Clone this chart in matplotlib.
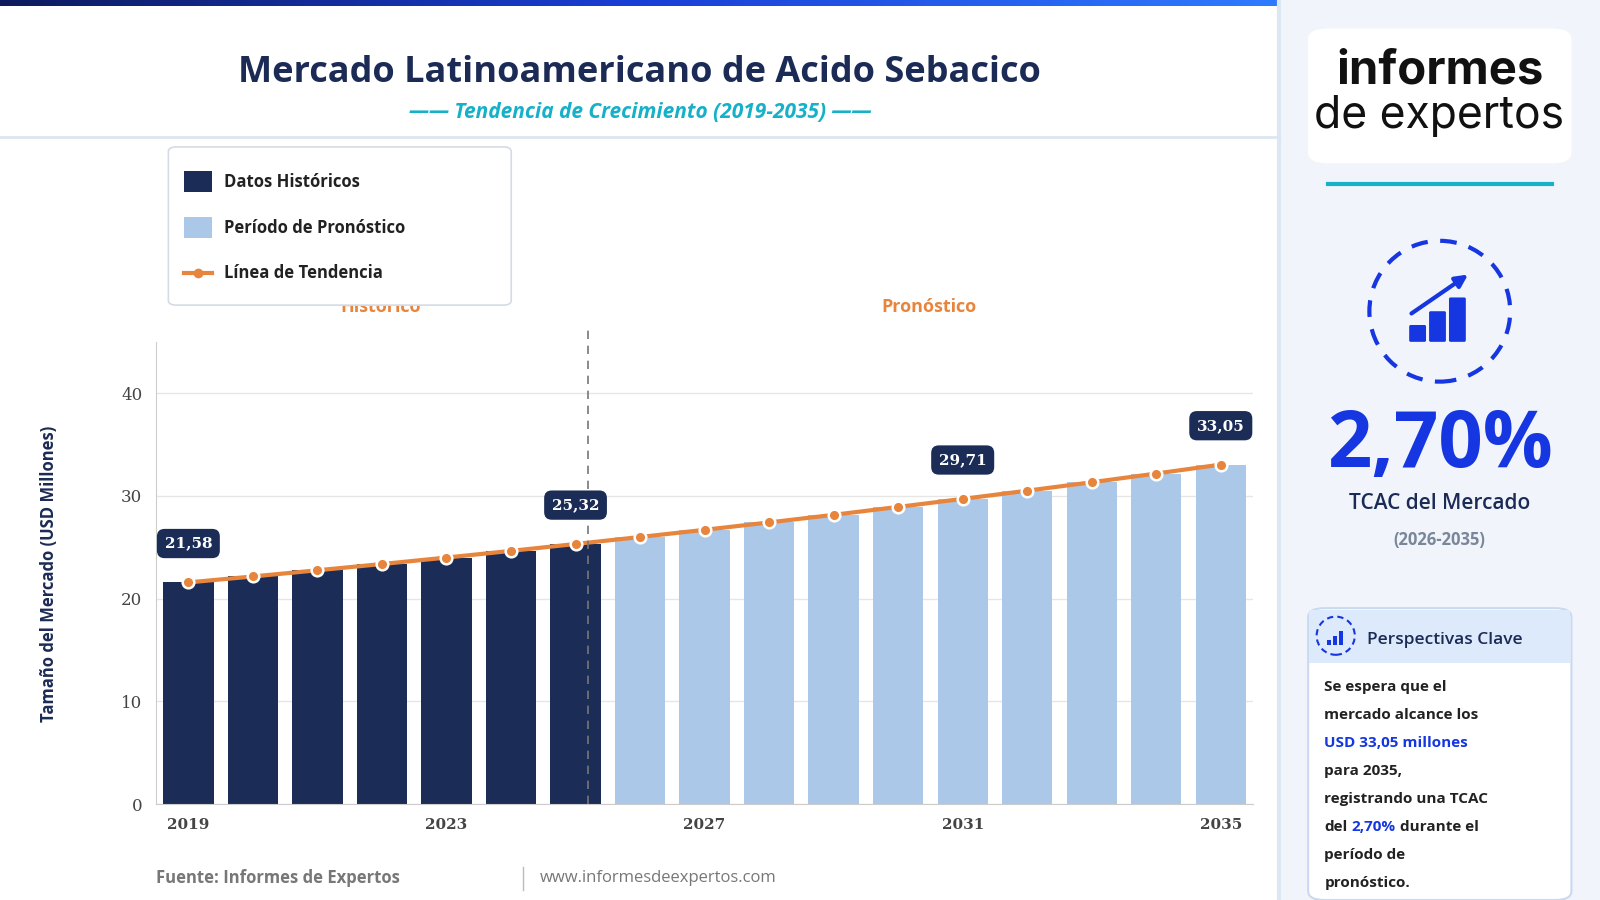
import matplotlib.pyplot as plt
from matplotlib.patches import Rectangle, FancyBboxPatch, Circle
from matplotlib.lines import Line2D
from matplotlib.colors import LinearSegmentedColormap
import numpy as np

years = list(range(2019, 2036))
values = [21.58, 22.16, 22.76, 23.37, 24.00, 24.65, 25.32, 26.00, 26.70,
          27.42, 28.16, 28.93, 29.71, 30.51, 31.33, 32.18, 33.05]
last_hist = 2025
labeled = {2019: "21,58", 2025: "25,32", 2031: "29,71", 2035: "33,05"}
tick_years = [2019, 2023, 2027, 2031, 2035]

W, H = 1568, 882
def fx(x): return x / W
def fy(y): return 1 - y / H

fig = plt.figure(figsize=(16, 9), dpi=100)
fig.patch.set_facecolor("white")

# top gradient bar
grad = np.linspace(0, 1, 256).reshape(1, -1)
gax = fig.add_axes([0, fy(6), fx(1253), 6 / H])
cmap = LinearSegmentedColormap.from_list("g", ["#0d1b5e", "#1a3fd6", "#2f7bff"])
gax.imshow(grad, aspect="auto", cmap=cmap)
gax.axis("off")

# right panel
fig.patches.append(Rectangle((fx(1253), 0), 1 - fx(1253), 1, transform=fig.transFigure,
                             facecolor="#f1f5fb", edgecolor="none", zorder=0))
fig.add_artist(Line2D([fx(1253), fx(1253)], [0, 1], color="#dde6f3", lw=3))
fig.add_artist(Line2D([0, fx(1253)], [fy(134), fy(134)], color="#dde6f0", lw=2))

fig.text(fx(627), fy(72), "Mercado Latinoamericano de Acido Sebacico", ha="center", va="center",
         fontsize=26, fontweight="bold", color="#1b2b55", family="Open Sans")
fig.text(fx(627), fy(110), "—— Tendencia de Crecimiento (2019-2035) ——", ha="center", va="center",
         fontsize=15, fontweight="bold", style="italic", color="#16b0c8", family="Open Sans")

ax = fig.add_axes([fx(153), fy(788), fx(1228 - 153), (788 - 335) / H])
colors = ["#1b2d57" if y <= last_hist else "#abc8e8" for y in years]
ax.bar(years, values, width=0.78, color=colors, zorder=2)
ax.plot(years, values, color="#e8853d", lw=3, zorder=3)
ax.scatter(years, values, s=70, color="#e8853d", edgecolor="white", linewidth=1.8, zorder=4)
for y, lab in labeled.items():
    v = values[years.index(y)]
    ax.annotate(lab, (y, v), xytext=(0, 28), textcoords="offset points", ha="center", va="center",
                fontsize=11, fontweight="bold", color="white", family="DejaVu Serif",
                bbox=dict(boxstyle="round,pad=0.5", fc="#1b2d57", ec="none"), zorder=5)
ax.axvline(last_hist + 0.2, ymin=0, ymax=1.03, color="#777777", ls=(0, (5, 4)), lw=1.2, clip_on=False, zorder=3)
ax.set_xlim(2018.5, 2035.5)
ax.set_ylim(0, 45)
ax.set_yticks([0, 10, 20, 30, 40])
ax.set_xticks(tick_years)
ax.tick_params(length=0, labelsize=12, colors="#444444", pad=10)
for l in ax.get_xticklabels() + ax.get_yticklabels():
    l.set_family("DejaVu Serif")
for l in ax.get_xticklabels():
    l.set_fontweight("bold")
    l.set_fontsize(11)
ax.grid(axis="y", color="#e6e6e6", lw=1, zorder=0)
for s in ["top", "right"]:
    ax.spines[s].set_visible(False)
ax.spines["left"].set_color("#cccccc")
ax.spines["bottom"].set_color("#cccccc")
fig.text(fx(48), fy(562), "Tamaño del Mercado (USD Millones)", rotation=90, ha="center", va="center",
         fontsize=12, fontweight="bold", color="#1b2b55", family="Open Sans")
fig.text(fx(373), fy(301), "Histórico", ha="center", va="center", fontsize=13, fontweight="bold",
         color="#e8853d", family="Open Sans")
fig.text(fx(910), fy(301), "Pronóstico", ha="center", va="center", fontsize=13, fontweight="bold",
         color="#e8853d", family="Open Sans")

# legend box
fig.patches.append(FancyBboxPatch((fx(165), fy(299)), fx(336), (299 - 144) / H, transform=fig.transFigure,
                                  boxstyle="round,pad=0,rounding_size=0.005", fc="white", ec="#d5dbe6", lw=1.2, zorder=5))
items = [("Datos Históricos", "#1b2d57"), ("Período de Pronóstico", "#abc8e8")]
for i, (t, c) in enumerate(items):
    yy = 178 + 45 * i
    fig.patches.append(Rectangle((fx(180), fy(yy + 10)), fx(28), 20 / H, transform=fig.transFigure,
                                 fc=c, ec="none", zorder=6))
    fig.text(fx(220), fy(yy), t, va="center", fontsize=12, fontweight="bold", color="#222222", zorder=6,
             family="Open Sans")
fig.add_artist(Line2D([fx(180), fx(208)], [fy(268)] * 2, color="#e8853d", lw=3, zorder=6))
fig.add_artist(Line2D([fx(194)], [fy(268)], color="#e8853d", marker="o", markersize=6, zorder=7))
fig.text(fx(220), fy(268), "Línea de Tendencia", va="center", fontsize=12, fontweight="bold",
         color="#222222", zorder=6, family="Open Sans")

# footer
fig.text(fx(153), fy(860), "Fuente: Informes de Expertos", va="center", fontsize=12, fontweight="bold",
         color="#777777", family="Open Sans")
fig.add_artist(Line2D([fx(513)] * 2, [fy(872), fy(850)], color="#bbbbbb", lw=1))
fig.text(fx(529), fy(860), "www.informesdeexpertos.com", va="center", fontsize=12, color="#777777",
         family="Open Sans")

# right panel: logo
fig.patches.append(FancyBboxPatch((fx(1282), fy(160)), fx(258), 132 / H, transform=fig.transFigure,
                                  boxstyle="round,pad=0,rounding_size=0.012", fc="white", ec="none", zorder=2))
fig.text(fx(1411), fy(70), "informes", ha="center", va="center", fontsize=34, fontweight="bold",
         color="#111111", family="Inter", zorder=3)
fig.text(fx(1410), fy(114), "de expertos", ha="center", va="center", fontsize=32, color="#111111",
         family="Inter", zorder=3)
fig.add_artist(Line2D([fx(1301), fx(1521)], [fy(180)] * 2, color="#16b0c8", lw=3))

# icon circle
iax = fig.add_axes([fx(1336), fy(380), fx(150), 150 / H], zorder=10)
iax.set_xlim(-1, 1); iax.set_ylim(-1, 1); iax.set_aspect("equal"); iax.axis("off")
iax.add_patch(Circle((0, 0), 0.92, fill=False, ec="#1536e0", lw=3, ls=(0, (4, 3))))
for i, h in enumerate([0.18, 0.36, 0.54]):
    iax.add_patch(FancyBboxPatch((-0.38 + i * 0.26, -0.38), 0.18, h, boxstyle="round,pad=0.02",
                                 fc="#1536e0", ec="none"))
iax.annotate("", xy=(0.4, 0.5), xytext=(-0.4, -0.05),
             arrowprops=dict(arrowstyle="-|>", color="#1536e0", lw=3, mutation_scale=18))

fig.text(fx(1411), fy(438), "2,70%", ha="center", va="center", fontsize=56, fontweight="bold",
         color="#1536e0", family="Open Sans")
fig.text(fx(1411), fy(493), "TCAC del Mercado", ha="center", va="center", fontsize=15,
         color="#1b2b55", family="Open Sans", fontweight="semibold")
fig.text(fx(1411), fy(529), "(2026-2035)", ha="center", va="center", fontsize=12, fontweight="bold",
         color="#7a8699", family="Open Sans")

# key insights card
fig.patches.append(FancyBboxPatch((fx(1282), fy(882)), fx(258), (882 - 596) / H, transform=fig.transFigure,
                                  boxstyle="round,pad=0,rounding_size=0.01", fc="white", ec="#c9d9f0", lw=1.5, zorder=2))
fig.patches.append(Rectangle((fx(1283), fy(650)), fx(256), 52 / H, transform=fig.transFigure,
                             fc="#ddeafb", ec="none", zorder=3))
cax = fig.add_axes([fx(1287), fy(645), fx(44), 44 / H], zorder=10)
cax.set_xlim(-1, 1); cax.set_ylim(-1, 1); cax.set_aspect("equal"); cax.axis("off")
cax.add_patch(Circle((0, 0), 0.85, fill=False, ec="#1536e0", lw=1.5, ls=(0, (3, 2))))
for i, h in enumerate([0.2, 0.4, 0.6]):
    cax.add_patch(Rectangle((-0.4 + i * 0.28, -0.4), 0.18, h, fc="#1536e0"))
fig.text(fx(1340), fy(627), "Perspectivas Clave", va="center", fontsize=12.5, color="#1b2b55",
         family="Open Sans", fontweight="semibold", zorder=4)
lines = [("Se espera que el", "#222222"), ("mercado alcance los", "#222222"),
         ("USD 33,05 millones", "#1536e0"), ("para 2035,", "#222222"),
         ("registrando una TCAC", "#222222"), (None, None), ("período de", "#222222"),
         ("pronóstico.", "#222222")]
for i, (t, c) in enumerate(lines):
    yy = fy(673 + 27.5 * i)
    if t is None:
        fig.text(fx(1298), yy, "del", va="center", fontsize=11, fontweight="bold", color="#222222",
                 family="Open Sans", zorder=4)
        fig.text(fx(1324), yy, "2,70%", va="center", fontsize=11, fontweight="bold", color="#1536e0",
                 family="Open Sans", zorder=4)
        fig.text(fx(1372), yy, "durante el", va="center", fontsize=11, fontweight="bold", color="#222222",
                 family="Open Sans", zorder=4)
    else:
        fig.text(fx(1298), yy, t, va="center", fontsize=11, fontweight="bold", color=c,
                 family="Open Sans", zorder=4)

fig.savefig("out.png", dpi=100)
